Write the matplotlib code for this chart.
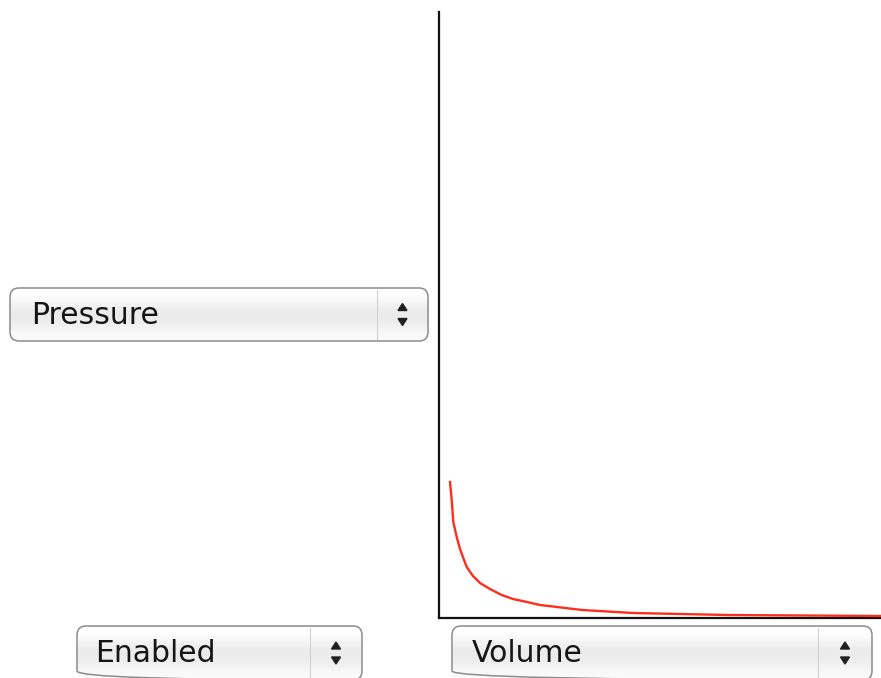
import numpy as np
import matplotlib
matplotlib.use('Agg')
import matplotlib.pyplot as plt
from matplotlib.patches import FancyBboxPatch, Polygon

# ── Data ──────────────────────────────────────────────────────────────────────

volume   = [11, 12.7, 14.3, 17.7, 21, 24.3, 27.7, 34, 41, 51, 62.7, 74, 88,
            101, 118, 143, 194, 289, 442]
pressure = [136, 118, 96, 81, 69, 60, 51, 42, 35, 29, 23, 19, 16,
            13, 11, 8, 5, 3, 2]

y_menu_label = 'Pressure'
x_menu_label = 'Volume'
state_label  = 'Enabled'

# ── Figure ────────────────────────────────────────────────────────────────────

W, H = 881, 678
fig = plt.figure(figsize=(W / 100, H / 100), dpi=100)
fig.patch.set_facecolor('white')

# pixel overlay for the popup buttons
ui = fig.add_axes([0, 0, 1, 1])
ui.set_xlim(0, W)
ui.set_ylim(H, 0)
ui.axis('off')

grad = np.array([1.0, 0.99, 0.97, 0.94, 0.92, 0.92, 0.93, 0.95, 0.97, 0.98])[:, None]


def popup(x0, x1, y0, y1, divider, label, text_x):
    box = FancyBboxPatch((x0, y0), x1 - x0, y1 - y0,
                         boxstyle='round,pad=0,rounding_size=9',
                         facecolor='none', edgecolor='#8c8c8c',
                         linewidth=1.1, zorder=3)
    ui.add_patch(box)
    img = ui.imshow(np.repeat(grad, 2, axis=1), cmap='gray', vmin=0, vmax=1,
                    extent=(x0, x1, y1, y0), aspect='auto',
                    interpolation='bicubic', zorder=2)
    img.set_clip_path(box)
    ui.plot([divider, divider], [y0 + 2, y1 - 2], color='#d2d2d2',
            linewidth=0.8, zorder=3)
    ui.text(text_x, (y0 + y1) / 2 + 1, label, fontsize=21.5,
            color='#151515', ha='left', va='center', zorder=4,
            family='DejaVu Sans')
    cx = (divider + x1) / 2
    cy = (y0 + y1) / 2
    ui.add_patch(Polygon([[cx - 4.5, cy - 4], [cx + 4.5, cy - 4], [cx, cy - 11]],
                         closed=True, color='#202020', zorder=4))
    ui.add_patch(Polygon([[cx - 4.5, cy + 4], [cx + 4.5, cy + 4], [cx, cy + 11]],
                         closed=True, color='#202020', zorder=4))


popup(10, 428, 288, 341, 377, y_menu_label, 31)
popup(77, 362, 626, 680, 310, state_label, 95)
popup(452, 872, 626, 680, 818, x_menu_label, 472)

# ── Plot ──────────────────────────────────────────────────────────────────────

ax = fig.add_axes([439 / W, 60 / H, 442 / W, 606 / H])
ax.patch.set_alpha(0)
ax.plot(volume, pressure, color='#ff2d1c', linewidth=1.7,
        clip_on=False, zorder=3)
ax.set_xlim(0, 442)
ax.set_ylim(0, 606)
for side in ['top', 'right']:
    ax.spines[side].set_visible(False)
for side in ['left', 'bottom']:
    ax.spines[side].set_linewidth(1.6)
    ax.spines[side].set_color('#111111')
ax.set_xticks([])
ax.set_yticks([])

plt.savefig('out.png', dpi=100)
plt.close()
